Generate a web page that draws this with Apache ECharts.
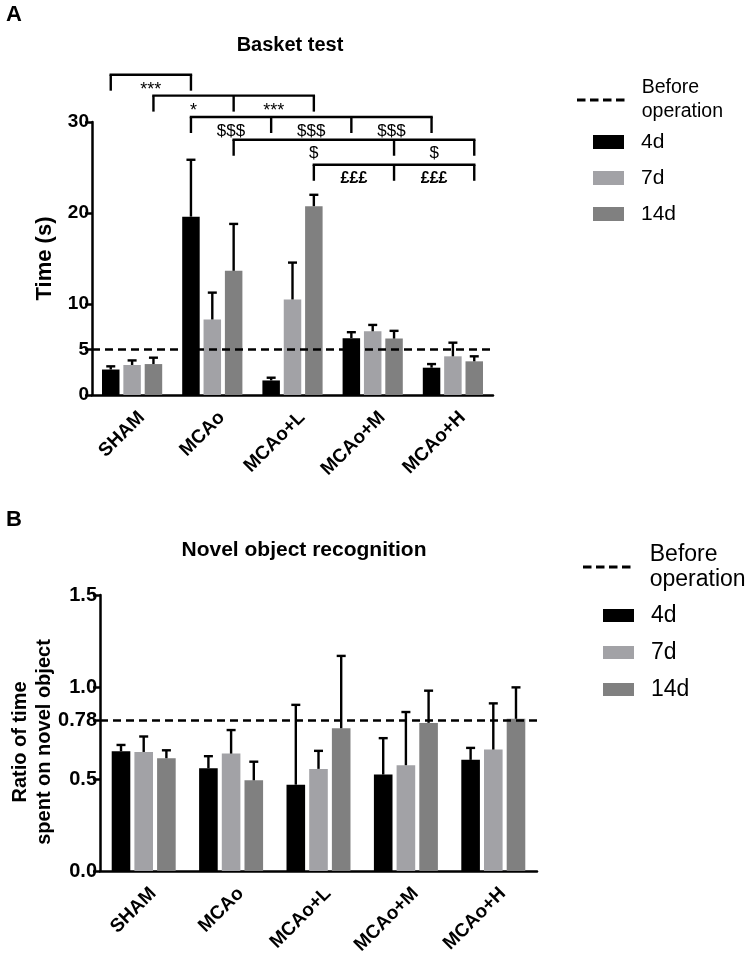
<!DOCTYPE html>
<html><head><meta charset="utf-8">
<script src="https://cdn.jsdelivr.net/npm/echarts@6/dist/echarts.min.js"></script>
<style>html,body{margin:0;padding:0;background:#fff}#c{width:752px;height:964px}</style>
</head><body><div id="c"></div>
<script>
// ---------- data ----------
const categories = ['SHAM', 'MCAo', 'MCAo+L', 'MCAo+M', 'MCAo+H'];
const groupNames = ['4d', '7d', '14d'];
const beforeName = 'Before operation';

// Panel A: Basket test (mean and top of error bar)
const basket4d = [2.8, 19.6, 1.6, 6.25, 3.0];
const basket4dTop = [3.15, 25.85, 1.9, 6.9, 3.4];
const basket7d = [3.3, 8.3, 10.5, 7.0, 4.25];
const basket7dTop = [3.8, 11.25, 14.55, 7.7, 5.75];
const basket14d = [3.4, 13.65, 20.75, 6.2, 3.7];
const basket14dTop = [4.1, 18.8, 22.0, 7.05, 4.25];
const basketBefore = 5;
const basketTicks = [0, 5, 10, 20, 30];

// significance brackets: points = [categoryIndex, groupIndex], level in y units
const bracketPoints = [
  [[0, 0], [1, 0]],
  [[0, 2], [1, 2], [2, 2]],
  [[1, 0], [2, 0], [3, 0], [4, 0]],
  [[1, 2], [3, 2], [4, 2]],
  [[2, 2], [3, 2], [4, 2]]
];
const bracketLevels = [35.2, 32.9, 30.55, 28.05, 25.3];
const bracketLabels = [
  ['***'],
  ['*', '***'],
  ['$$$', '$$$', '$$$'],
  ['$', '$'],
  ['£££', '£££']
];

// Panel B: Novel object recognition
const novel4d = [0.651, 0.558, 0.469, 0.524, 0.604];
const novel4dTop = [0.685, 0.624, 0.903, 0.722, 0.669];
const novel7d = [0.647, 0.638, 0.555, 0.575, 0.66];
const novel7dTop = [0.731, 0.766, 0.653, 0.864, 0.911];
const novel14d = [0.613, 0.493, 0.776, 0.805, 0.827];
const novel14dTop = [0.656, 0.594, 1.169, 0.98, 0.998];
const novelBefore = 0.818;
const novelTicks = [0, 0.5, 0.818, 1.0, 1.5];
const novelTickLabels = ['0.0', '0.5', '0.78', '1.0', '1.5'];

// ---------- style ----------
const FONT = '"Liberation Sans", Arial, sans-serif';
const colors = ['#000000', '#a2a2a6', '#808080'];
const BAR_W = [17.5, 18.6];
const BAR_GAP = 0.22;
const AXW = 2.5;
const DASH_ICON = 'path://M0,0H8.5V3H0Z M13,0H21.5V3H13Z M26,0H34.5V3H26Z M39,0H47.5V3H39Z';

const chart = echarts.init(document.getElementById('c'), null, {renderer: 'canvas'});

function errSeries(panel, means, tops) {
  const data = [];
  means.forEach((arr, k) => arr.forEach((m, c) => data.push([c, m, tops[k][c], k])));
  const step = BAR_W[panel] * (1 + BAR_GAP);
  return {
    type: 'custom', xAxisIndex: panel, yAxisIndex: panel, z: 5, silent: true,
    data: data,
    renderItem: function (params, api) {
      const c = api.value(0), m = api.value(1), t = api.value(2), k = api.value(3);
      const p0 = api.coord([c, m]);
      const p1 = api.coord([c, t]);
      const x = p0[0] + (k - 1) * step;
      const cap = 4.5;
      return {
        type: 'group',
        children: [
          {type: 'line', shape: {x1: x, y1: p0[1], x2: x, y2: p1[1]}, style: {stroke: '#000', lineWidth: 2.4}},
          {type: 'line', shape: {x1: x - cap, y1: p1[1], x2: x + cap, y2: p1[1]}, style: {stroke: '#000', lineWidth: 2.4}}
        ]
      };
    }
  };
}

function barSeries(panel, arrs) {
  return arrs.map((d, k) => ({
    name: groupNames[k], type: 'bar', xAxisIndex: panel, yAxisIndex: panel,
    data: d, barWidth: BAR_W[panel], barGap: (BAR_GAP * 100) + '%',
    itemStyle: {color: colors[k]}, z: 2, silent: true
  }));
}

function beforeSeries(panel, value) {
  return {
    name: beforeName, type: 'line', xAxisIndex: panel, yAxisIndex: panel,
    data: [], symbol: 'none', z: 6,
    itemStyle: {color: '#000'},
    lineStyle: {color: '#000', width: 2.5, type: [8, 5]},
    markLine: {
      silent: true, symbol: 'none', label: {show: false},
      lineStyle: {color: '#000', width: 2.5, type: [8, 5]},
      data: [{yAxis: value}]
    }
  };
}

const bracketSeries = {
  type: 'custom', xAxisIndex: 0, yAxisIndex: 0, z: 6, silent: true, clip: false,
  data: bracketLevels.map((lv, i) => [bracketPoints[i][0][0], lv]),
  renderItem: function (params, api) {
    const i = params.dataIndex;
    const step = BAR_W[0] * (1 + BAR_GAP);
    const lv = api.value(1);
    const xs = bracketPoints[i].map(p => api.coord([p[0], lv])[0] + (p[1] - 1) * step);
    const y = api.coord([0, lv])[1];
    const drop = 16;
    const ch = [{type: 'line', shape: {x1: xs[0] - 1.2, y1: y, x2: xs[xs.length - 1] + 1.2, y2: y}, style: {stroke: '#000', lineWidth: 2.4}}];
    xs.forEach(x => ch.push({type: 'line', shape: {x1: x, y1: y, x2: x, y2: y + drop}, style: {stroke: '#000', lineWidth: 2.4}}));
    bracketLabels[i].forEach((t, j) => {
      const pound = t.indexOf('£') >= 0;
      const star = t.indexOf('*') >= 0;
      ch.push({type: 'text', x: (xs[j] + xs[j + 1]) / 2, y: y + (star ? 15 : 14),
        style: {text: t, fill: '#000', font: (pound ? 'bold 16px ' : star ? '18px ' : '17px ') + FONT,
          align: 'center', verticalAlign: 'middle'}});
    });
    return {type: 'group', children: ch};
  }
};

function xAxis(grid) {
  return {
    type: 'category', gridIndex: grid, data: categories,
    axisLine: {lineStyle: {color: '#000', width: AXW}},
    axisTick: {alignWithLabel: true, length: 7, lineStyle: {color: '#000', width: AXW}},
    axisLabel: {interval: 0, rotate: 45, fontWeight: 'bold', fontSize: 19, color: '#000', fontFamily: FONT,
      margin: 10, verticalAlign: 'top', padding: [4, 0, 0, 0]},
    splitLine: {show: false}
  };
}

const legendText = (size, lh) => ({fontSize: size, lineHeight: lh, color: '#000', fontFamily: FONT, padding: [0, 0, 0, 12]});

const option = {
  animation: false,
  backgroundColor: '#fff',
  textStyle: {fontFamily: FONT, color: '#000'},
  title: [
    {text: 'A', left: 6, top: 4, padding: 0, textStyle: {fontSize: 22, fontWeight: 'bold', color: '#000', fontFamily: FONT}},
    {text: 'Basket test', left: 290, top: 35, padding: 0, textAlign: 'center', textStyle: {fontSize: 20, fontWeight: 'bold', color: '#000', fontFamily: FONT}},
    {text: 'B', left: 6, top: 509, padding: 0, textStyle: {fontSize: 22, fontWeight: 'bold', color: '#000', fontFamily: FONT}},
    {text: 'Novel object recognition', left: 304, top: 540, padding: 0, textAlign: 'center', textStyle: {fontSize: 21, fontWeight: 'bold', color: '#000', fontFamily: FONT}}
  ],
  legend: [
    {data: [{name: beforeName, icon: DASH_ICON}], left: 577, top: 76, padding: 0, orient: 'vertical', itemWidth: 48, itemHeight: 3, selectedMode: false,
      formatter: () => 'Before\noperation', textStyle: legendText(19.5, 24)},
    {data: groupNames, left: 593, top: 130, padding: 0, orient: 'vertical', icon: 'rect', itemWidth: 31, itemHeight: 14, itemGap: 12, selectedMode: false,
      textStyle: legendText(21, 24)},
    {data: [{name: beforeName, icon: DASH_ICON}], left: 583, top: 542, padding: 0, orient: 'vertical', itemWidth: 52, itemHeight: 3, selectedMode: false,
      formatter: () => 'Before\noperation', textStyle: legendText(23, 25)},
    {data: groupNames, left: 603, top: 603, padding: 0, orient: 'vertical', icon: 'rect', itemWidth: 31, itemHeight: 13, itemGap: 12, selectedMode: false,
      textStyle: legendText(23, 25)}
  ],
  grid: [
    {left: 92, top: 122, width: 401, height: 273, containLabel: false, outerBoundsMode: 'none'},
    {left: 100, top: 595, width: 437, height: 276, containLabel: false, outerBoundsMode: 'none'}
  ],
  xAxis: [xAxis(0), xAxis(1)],
  yAxis: [
    {type: 'value', gridIndex: 0, min: 0, max: 30,
      name: 'Time (s)', nameLocation: 'middle', nameGap: 36, nameRotate: 90, nameMoveOverlap: false,
      nameTextStyle: {fontSize: 22, fontWeight: 'bold', color: '#000', fontFamily: FONT},
      axisLine: {show: true, lineStyle: {color: '#000', width: AXW}},
      axisTick: {show: true, length: 7, customValues: basketTicks, lineStyle: {color: '#000', width: AXW}},
      axisLabel: {customValues: basketTicks, fontWeight: 'bold', fontSize: 19, color: '#000', fontFamily: FONT, margin: 3},
      splitLine: {show: false}},
    {type: 'value', gridIndex: 1, min: 0, max: 1.5,
      name: 'Ratio of time\nspent on novel object', nameLocation: 'middle', nameGap: 44, nameRotate: 90, nameMoveOverlap: false,
      nameTextStyle: {fontSize: 20, fontWeight: 'bold', color: '#000', fontFamily: FONT, lineHeight: 24, padding: [0, 18, 0, 0]},
      axisLine: {show: true, lineStyle: {color: '#000', width: AXW}},
      axisTick: {show: true, length: 7, customValues: novelTicks, lineStyle: {color: '#000', width: AXW}},
      axisLabel: {customValues: novelTicks, fontWeight: 'bold', fontSize: 20, color: '#000', fontFamily: FONT, margin: 3,
        formatter: function (v) {
          for (let i = 0; i < novelTicks.length; i++) if (Math.abs(novelTicks[i] - v) < 1e-6) return novelTickLabels[i];
          return '';
        }},
      splitLine: {show: false}}
  ],
  series: [].concat(
    barSeries(0, [basket4d, basket7d, basket14d]),
    [errSeries(0, [basket4d, basket7d, basket14d], [basket4dTop, basket7dTop, basket14dTop]),
     beforeSeries(0, basketBefore), bracketSeries],
    barSeries(1, [novel4d, novel7d, novel14d]),
    [errSeries(1, [novel4d, novel7d, novel14d], [novel4dTop, novel7dTop, novel14dTop]),
     beforeSeries(1, novelBefore)]
  )
};
chart.setOption(option);
</script>
</body></html>
